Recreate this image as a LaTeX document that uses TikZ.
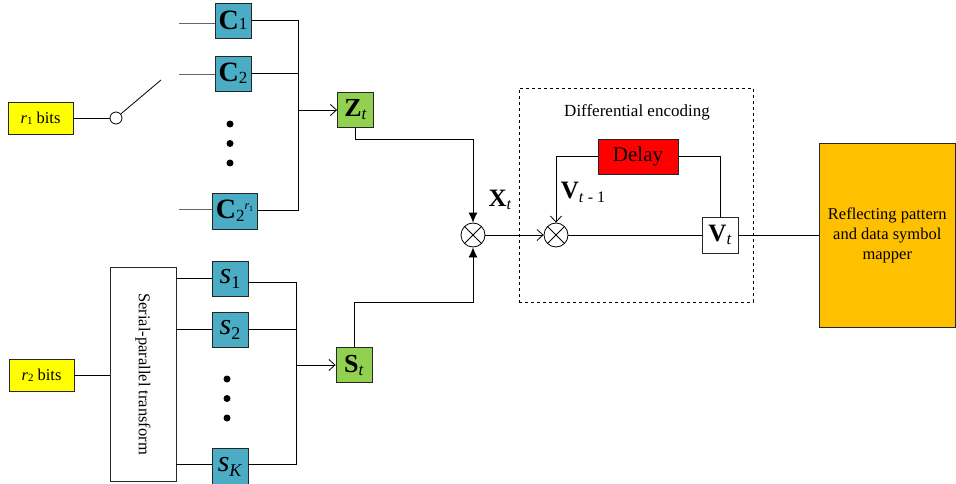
\documentclass[tikz,border=0pt]{standalone}
\usepackage{fontspec}
\setmainfont{Liberation Serif}
\usetikzlibrary{arrows.meta}
\definecolor{cteal}{HTML}{4BACC6}
\definecolor{cgreen}{HTML}{92D050}
\definecolor{cyel}{HTML}{FFFF00}
\definecolor{cred}{HTML}{FF0000}
\definecolor{corange}{HTML}{FFC000}
\newcommand\fsz[1]{\fontsize{#1}{#1}\selectfont}
\begin{document}
\begin{tikzpicture}[x=1pt,y=-1pt, line width=0.8pt,
  box/.style={draw=black!85, line width=0.9pt, inner sep=0pt, minimum width=36pt, minimum height=35pt},
  cbox/.style={box, fill=cteal},
  gbox/.style={box, fill=cgreen},
  ybox/.style={box, fill=cyel, minimum width=65pt, minimum height=32pt, font=\fsz{16.5}},
  mult/.style={circle, draw, line width=0.8pt, minimum size=24pt, inner sep=0pt,
    path picture={\draw (path picture bounding box.south west) -- (path picture bounding box.north east)
                        (path picture bounding box.north west) -- (path picture bounding box.south east);}},
  oarr/.style={-{Straight Barb[length=6pt,width=11pt]}},
  farr/.style={-{Latex[length=10pt,width=9pt]}},
  bus/.style={draw=black!60},
  dot/.style={circle, fill, inner sep=0pt, minimum size=7pt}
]
\useasboundingbox (0,0) rectangle (956,484);

% ---- upper branch
\node[ybox] (r1) at (40.5,118) {\textit{r}\raisebox{-1pt}{\fsz{11}1}\fsz{16.5} bits};
\node[circle, draw, fill=white, minimum size=12pt, inner sep=0pt] (sw) at (116,118) {};
\coordinate (swend) at (161,80);
\draw (r1.east) -- (sw.west);
\draw (sw) -- (swend);

\node[cbox] (C1) at (233,20.5) {\fsz{28}\textbf{C}\fsz{17}1};
\node[cbox] (C2) at (233,73.5) {\fsz{28}\textbf{C}\raisebox{-2pt}{\fsz{17}2}};
\node[cbox, minimum width=45pt, minimum height=36pt] (C3) at (234.5,211) {\fsz{28}\textbf{C}\raisebox{-3pt}{\fsz{17}2}\raisebox{9pt}{\fsz{12}\textit{r}\raisebox{-2pt}{\fsz{8}1}}};
\coordinate (i1) at (179,23);
\coordinate (i2) at (179,74);
\coordinate (i3) at (179,209);
\draw[bus] (i1) -- (i1 -| C1.west);
\draw[bus] (i2) -- (i2 -| C2.west);
\draw[bus] (i3) -- (i3 -| C3.west);
\node[dot] (cd1) at (230,124) {};
\node[dot] (cd2) at (230,143.5) {};
\node[dot] (cd3) at (230,163) {};

\coordinate (cbusbot) at (298,210);
\coordinate (cbusmid) at (298,110);
\draw (C1.east) -| (cbusbot) -- (C3.east |- cbusbot);
\draw (C2.east) -- (C2.east -| cbusbot);
\node[gbox] (Z) at (355.5,110) {\fsz{26}\textbf{Z}\raisebox{-3pt}{\fsz{17}\textit{t}}};
\draw[oarr] (cbusmid) -- (cbusmid -| Z.west);

% ---- lower branch
\node[ybox] (r2) at (41.5,375.5) {\textit{r}\raisebox{-1pt}{\fsz{11}2}\fsz{16.5} bits};
\node[box, minimum width=66pt, minimum height=214pt, font=\fsz{16.5}] (SP) at (143,374) {\rotatebox{-90}{Serial-parallel transform}};
\draw (r2.east) -- (r2.east -| SP.west);

\node[cbox] (s1) at (230,278.5) {\fsz{30}\textit{s}\raisebox{-5pt}{\fsz{18}1}};
\node[cbox] (s2) at (230,330) {\fsz{30}\textit{s}\raisebox{-5pt}{\fsz{18}2}};
\node[cbox, minimum height=36pt] (sK) at (230,466.5) {\fsz{30}\textit{s}\raisebox{-5pt}{\fsz{18}\textit{K}}};
\coordinate (j1) at (176,278);
\coordinate (j2) at (176,329);
\coordinate (j3) at (176,464);
\draw (j1) -- (j1 -| s1.west);
\draw (j2) -- (j2 -| s2.west);
\draw (j3) -- (j3 -| sK.west);
\node[dot] (sd1) at (227,379) {};
\node[dot] (sd2) at (227,398.5) {};
\node[dot] (sd3) at (227,418) {};

\coordinate (sbusbot) at (296,464);
\coordinate (sbusmid) at (296,365);
\draw (s1.east |- 0,282) -| (sbusbot) -- (sK.east |- sbusbot);
\draw (s2.east |- 0,329) -- (sbusbot |- 0,329);
\node[gbox] (S) at (354,365) {\fsz{26}\textbf{S}\raisebox{-3pt}{\fsz{17}\textit{t}}};
\draw[oarr] (sbusmid) -- (sbusmid -| S.west);

% ---- combining
\node[mult] (m1) at (473,235) {};
\coordinate (zt) at (473,139);
\coordinate (st) at (473,302);
\draw[farr] (Z.south) |- (zt) -- (m1.north);
\draw[farr] (S.north) |- (st) -- (m1.south);
\node[font=\fsz{25}] (Xt) at (500,200) {\textbf{X}\raisebox{-3pt}{\fsz{16}\textit{t}}};

% ---- differential encoding
\node[draw, dashed, line width=0.7pt, minimum width=234pt, minimum height=214pt, inner sep=0pt] (DE) at (636,195) {};
\node[font=\fsz{17}] (DEt) at (637,112) {Differential encoding};
\node[box, fill=cred, minimum width=80pt, font=\fsz{21}] (D) at (638,156.5) {Delay};
\node[mult] (m2) at (556,235) {};
\node[box, fill=white, minimum width=36pt, minimum height=36pt] (V) at (720,235) {\fsz{25}\textbf{V}\raisebox{-3pt}{\fsz{17}\textit{t}}};
\draw[oarr] (m1.east) -- (m2.west);
\draw[oarr] (D.west) -| (m2.north);
\draw (D.east) -| (V.north);
\draw (m2.east) -- (V.west);
\node[font=\fsz{25}] (Vt1) at (583,192) {\textbf{V}\raisebox{-4pt}{\fsz{16}\textit{t} - 1}};

% ---- mapper
\node[box, fill=corange, minimum width=136pt, minimum height=184pt, align=center, font=\fsz{16.5}] (RP) at (887.25,235) {Reflecting pattern\\[3.5pt] and data symbol\\[3.5pt] mapper};
\draw (V.east) -- (V.east -| RP.west);
\end{tikzpicture}
\end{document}
